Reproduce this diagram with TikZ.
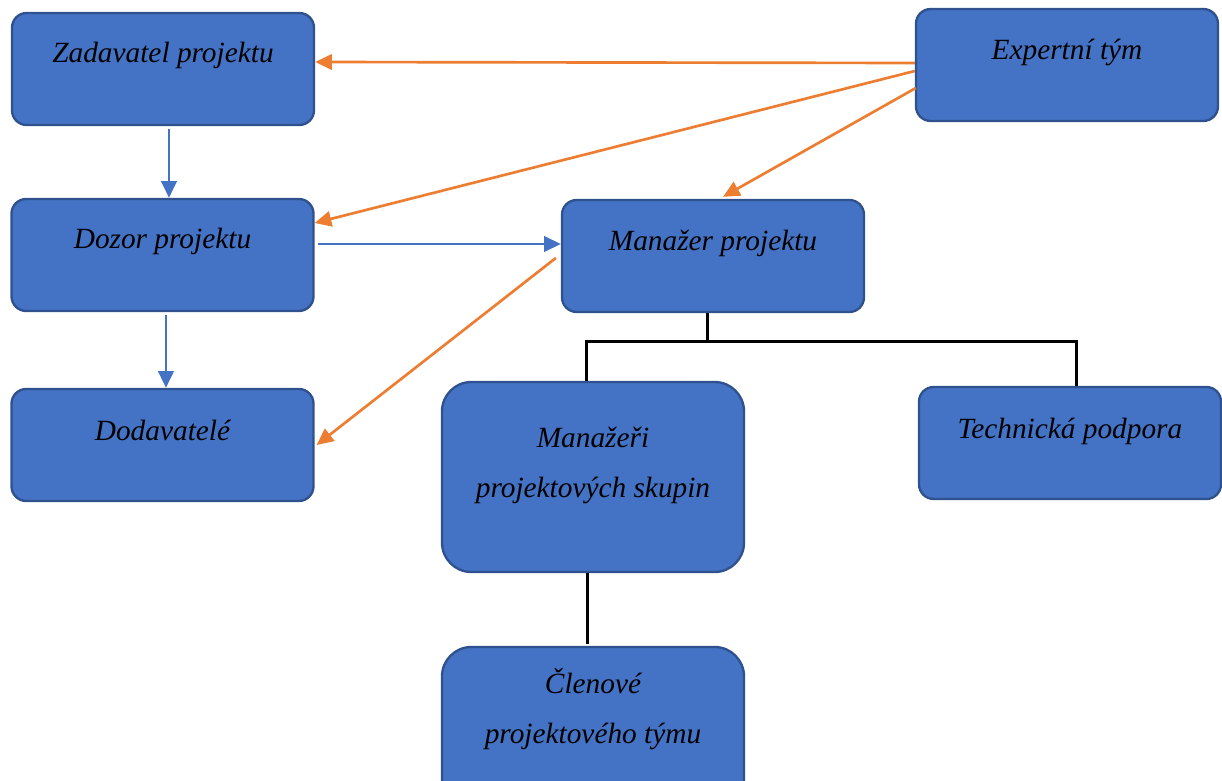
\documentclass[tikz,border=0pt]{standalone}
\usepackage{fontspec}
\setmainfont{Liberation Serif}
\usetikzlibrary{arrows.meta}
\definecolor{boxfill}{HTML}{4472C4}
\definecolor{boxline}{HTML}{2F528F}
\definecolor{orangeline}{HTML}{ED7D31}
\begin{document}
\begin{tikzpicture}[x=0.75pt,y=-0.75pt,
  box/.style={draw=boxline, fill=boxfill, line width=1.75pt, rounded corners=11pt,
    minimum width=226.5pt, minimum height=84pt, inner sep=0pt},
  bigbox/.style={box, rounded corners=22pt, minimum height=142.5pt},
  txt/.style={font=\itshape\fontsize{22}{37.5}\selectfont, anchor=base,
    inner sep=0pt, align=center, text=black},
  tip/.style={-{Triangle[length=12.5pt,width=11.5pt]}},
  bluearr/.style={draw=boxfill, line width=2pt, tip},
  orangearr/.style={draw=orangeline, line width=2pt, tip},
  tree/.style={draw=black, line width=2.25pt}
]
\useasboundingbox (0,0) rectangle (1222,781);
\clip (0,0) rectangle (1222,781);

% boxes
\node[box] (zad) at (163,69) {};
\node[box] (exp) at (1067,65) {};
\node[box] (doz) at (162.5,255) {};
\node[box] (man) at (713,256) {};
\node[box] (dod) at (162.5,445) {};
\node[box] (tech) at (1070,443) {};
\node[bigbox] (mgr) at (593,477) {};
\node[bigbox] (mem) at (593,742) {};

% texts (multi-line nodes are anchored at the baseline of their last line)
\node[txt] (zadT) at (163,63) {Zadavatel projektu};
\node[txt] (expT) at (1067,60) {Expertní tým};
\node[txt] (dozT) at (162.5,249) {Dozor projektu};
\node[txt] (manT) at (713,251) {Manažer projektu};
\node[txt] (dodT) at (162.5,440) {Dodavatelé};
\node[txt] (techT) at (1070,438) {Technická podpora};
\node[txt] (mgrT) at (593,497) {Manažeři\\projektových skupin};
\node[txt] (memT) at (593,743) {Členové\\projektového týmu};

% blue flow
\draw[bluearr] ([xshift=4.5pt,yshift=-2.25pt]zad.south) -- ([xshift=4.5pt]zad.south |- doz.north);
\draw[bluearr] ([xshift=2.6pt,yshift=-2.25pt]doz.south) -- ([xshift=2.6pt]doz.south |- dod.north);
\draw[bluearr] ([xshift=2.25pt,yshift=8.25pt]doz.east) -- ([yshift=8.25pt]doz.east -| man.west);

% expert team links
\draw[orangearr] ([yshift=1.5pt]exp.west) -- ([yshift=5.25pt]zad.east);
\draw[orangearr] ([yshift=-4.5pt]exp.west) -- ([yshift=24pt]doz.east);
\draw[orangearr] ([xshift=0.75pt,yshift=-17.25pt]exp.west) -- ([xshift=7.5pt,yshift=1.5pt]man.north);
\draw[orangearr] ([xshift=-3.75pt,yshift=-1.5pt]man.west) -- ([xshift=1.5pt]dod.east);

% hierarchy
\coordinate (bus) at (707,341);
\draw[tree] ([xshift=-4.5pt]man.south) -- (bus);
\draw[tree] ([xshift=-5.25pt]mgr.north) |- (bus) -| ([xshift=4.5pt]tech.north);
\draw[tree] ([xshift=-4.5pt]mgr.south) -- ([xshift=-4.5pt,yshift=1.5pt]mgr.south |- mem.north);
\end{tikzpicture}
\end{document}
